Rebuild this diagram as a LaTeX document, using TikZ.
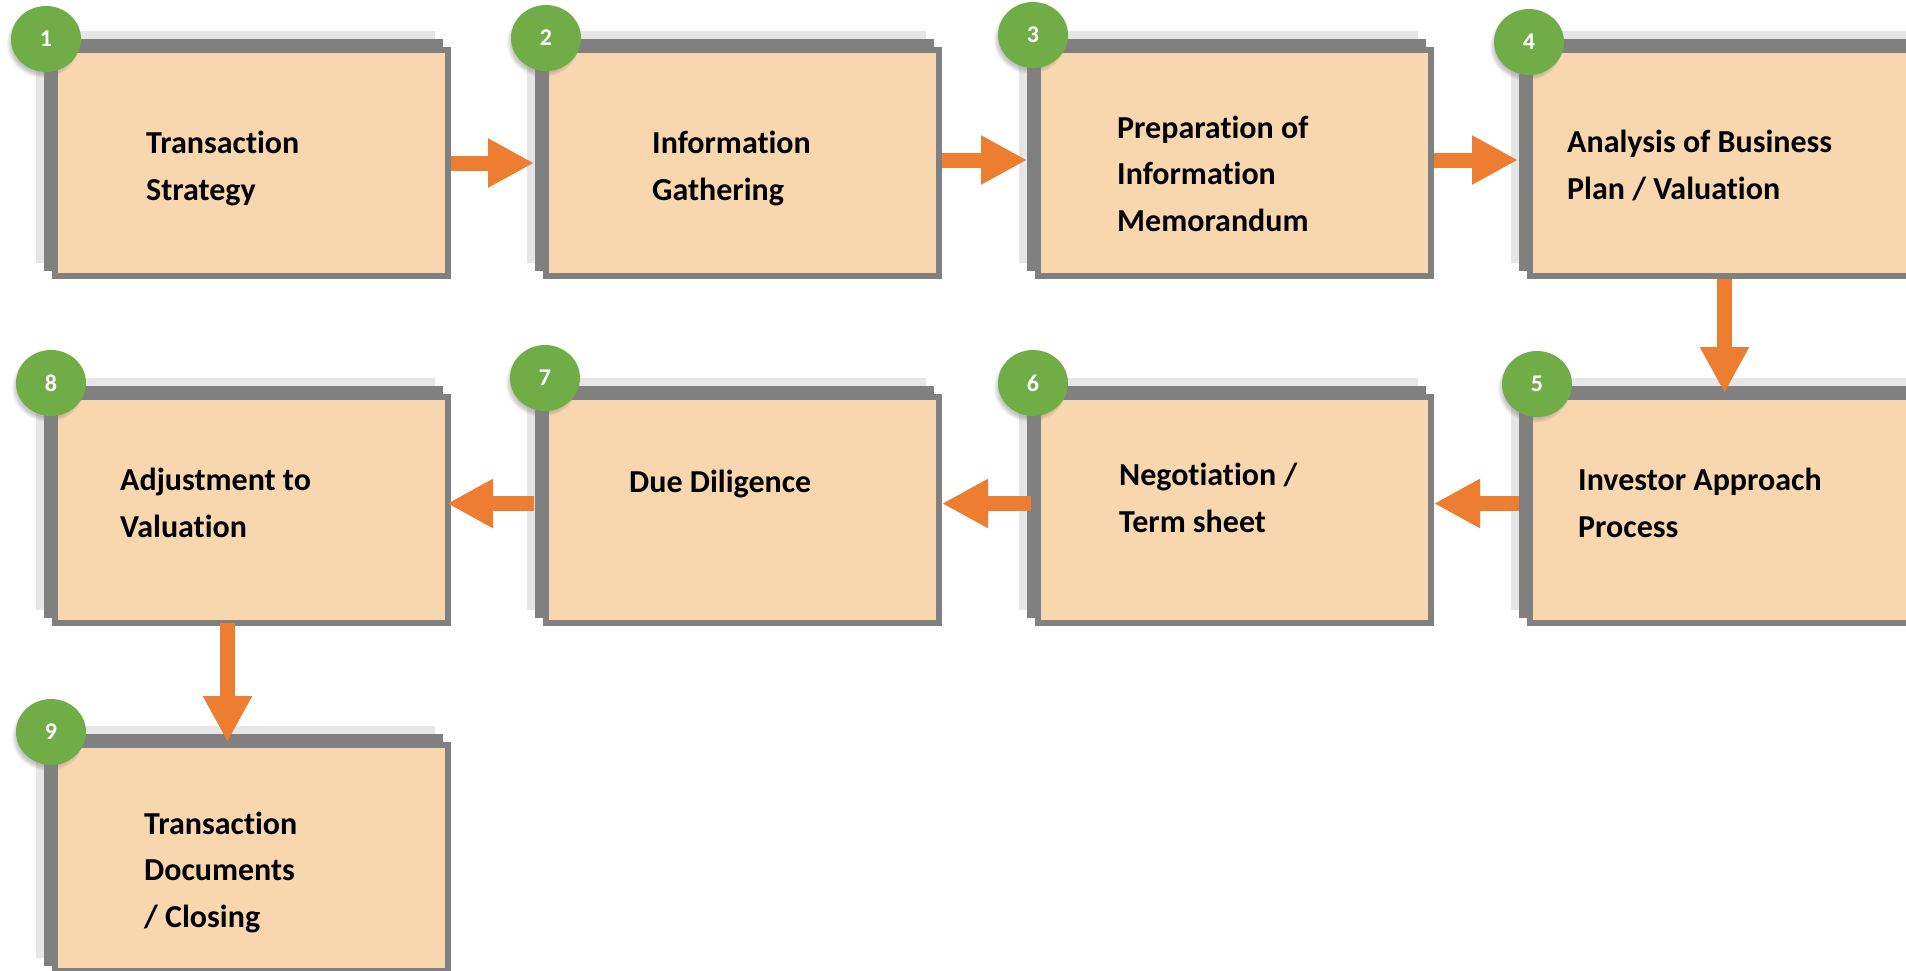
\documentclass[tikz,border=0pt]{standalone}
\usepackage{fontspec}
\setmainfont{Carlito}[Ligatures=CommonOff]
\usetikzlibrary{arrows.meta,calc,shadows,shapes.geometric}

\definecolor{boxfill}{HTML}{F8D7AE}
\definecolor{boxedge}{HTML}{808080}
\definecolor{backlayer}{HTML}{E6E6E6}
\definecolor{stepgreen}{HTML}{70AD47}
\definecolor{flowarrow}{HTML}{ED7D31}

\tikzset{
  stepbox/.style={rectangle, draw=boxedge, line width=6pt, fill=boxfill,
    minimum width=393pt, minimum height=226pt, inner sep=0pt},
  badge/.style={ellipse, fill=stepgreen, minimum width=70pt, minimum height=66pt,
    inner sep=0pt, text=white, font=\bfseries\fontsize{24}{24}\selectfont,
    circular drop shadow={shadow xshift=-3pt, shadow yshift=-4pt,
      shadow scale=1.05, opacity=.45}},
  % anchored at the baseline of the last line
  steptext/.style={anchor=base west, align=left, inner sep=0pt,
    font=\bfseries\fontsize{32}{46.5}\selectfont},
  flow/.style={draw=flowarrow, line width=15pt,
    -{Triangle[width=46pt,length=46pt]}}
}

% a process box with two stacked back layers; #1 name, #2 left, #3 top
\newcommand\layeredbox[3]{%
  \fill[backlayer] (#2-16,#3-16) rectangle (#2+383,#3+216);
  \fill[boxedge] (#2-8,#3-8) rectangle (#2+391,#3+224);
  \node[stepbox] (#1) at (#2+199.5,#3+116) {};
}

\begin{document}
\begin{tikzpicture}[x=1pt,y=-1pt]
\useasboundingbox (0,0) rectangle (1906,970);
\clip (0,0) rectangle (1906,970);
\fill[white] (0,0) rectangle (1906,970);

% boxes: columns 52, 543, 1035, 1527; rows 47, 394, 742
\layeredbox{b1}{52}{47}
\layeredbox{b2}{543}{47}
\layeredbox{b3}{1035}{47}
\layeredbox{b4}{1527}{47}
\layeredbox{b5}{1527}{394}
\layeredbox{b6}{1035}{394}
\layeredbox{b7}{543}{394}
\layeredbox{b8}{52}{394}
\layeredbox{b9}{52}{742}

% box texts
\node[steptext] (t1) at (146,200) {Transaction\\Strategy};
\node[steptext] (t2) at (652,200) {Information\\Gathering};
\node[steptext] (t3) at (1117,231) {Preparation of\\Information\\Memorandum};
\node[steptext] (t4) at (1567,199) {Analysis of Business\\Plan / Valuation};
\node[steptext] (t5) at (1578,537) {Investor Approach\\Process};
\node[steptext] (t6) at (1119,532) {Negotiation /\\Term sheet};
\node[steptext] (t7) at (629,492) {Due Diligence};
\node[steptext] (t8) at (120,537) {Adjustment to\\Valuation};
\node[steptext] (t9) at (144,927) {Transaction\\Documents\\/ Closing};

% step numbers
\node[badge] (n1) at (46,39) {1};
\node[badge] (n2) at (546,38) {2};
\node[badge] (n3) at (1033,35) {3};
\node[badge] (n4) at (1529,42) {4};
\node[badge] (n5) at (1537,384) {5};
\node[badge] (n6) at (1033,383) {6};
\node[badge] (n7) at (545,378) {7};
\node[badge] (n8) at (51,383) {8};
\node[badge] (n9) at (51,732) {9};

% flow arrows
\draw[flow] (b1.east) -- ($(b2.west)+(-9,0)$);
\draw[flow] ($(b2.east)+(0,-3)$) -- ($(b3.west)+(-8,-3)$);
\draw[flow] ($(b3.east)+(0,-3)$) -- ($(b4.west)+(-9,-3)$);
\draw[flow] ($(b4.south)+(-2,0)$) -- ($(b5.north)+(-2,-1)$);
\draw[flow] ($(b5.west)+(-8,-6.5)$) -- ($(b6.east)+(0,-6.5)$);
\draw[flow] ($(b6.west)+(-4,-6.5)$) -- ($(b7.east)+(0,-6.5)$);
\draw[flow] ($(b7.west)+(-9,-6.5)$) -- ($(b8.east)+(-4,-6.5)$);
\draw[flow] ($(b8.south)+(-24,-3)$) -- ($(b9.north)+(-24,0)$);
\end{tikzpicture}
\end{document}
